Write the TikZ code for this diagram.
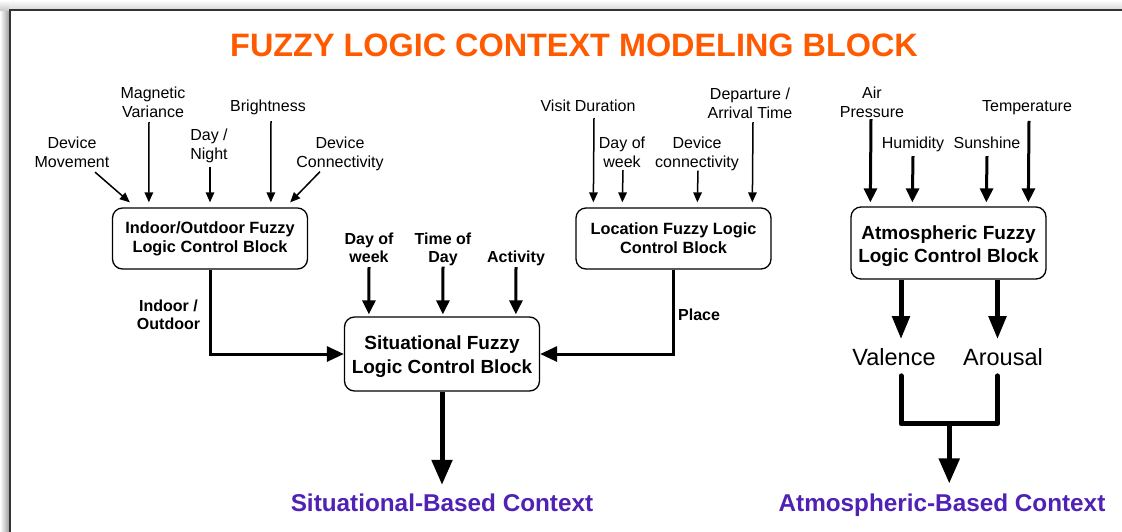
\documentclass[tikz,border=0pt]{standalone}
\usepackage{fontspec}
\setmainfont{Liberation Sans}
\usetikzlibrary{arrows.meta,calc}

\definecolor{titleorange}{HTML}{FF5A00}
\definecolor{ctxpurple}{HTML}{5021B5}
\definecolor{framegray}{HTML}{333333}

\tikzset{
  block/.style={draw=black, line width=1.3pt, rounded corners=10pt, fill=white,
                inner sep=0pt, align=center},
  smallblock/.style={block, minimum width=195pt, minimum height=61pt,
                font=\fontsize{16.3}{19}\selectfont\bfseries},
  bigblock/.style={block, minimum width=195pt,
                font=\fontsize{19}{22.5}\selectfont\bfseries},
  lbl/.style={align=center, inner sep=0pt, font=\fontsize{16}{19}\selectfont},
  blbl/.style={align=center, inner sep=0pt, font=\fontsize{16}{18}\selectfont\bfseries},
  outlbl/.style={inner sep=0pt, font=\fontsize{23.5}{26}\selectfont},
  ctxlbl/.style={inner sep=0pt, text=ctxpurple, font=\fontsize{24.3}{28}\selectfont\bfseries},
  thinarrow/.style={line width=1.5pt, -{Triangle[length=10pt,width=8.5pt]}},
  midarrow/.style={line width=3pt, -{Triangle[length=14pt,width=13pt]}},
  feedarrow/.style={line width=3pt, -{Triangle[length=17pt,width=15pt]}},
  bigarrow/.style={line width=5pt, -{Triangle[length=25pt,width=20pt]}},
  mergeline/.style={line width=5pt, line cap=round, line join=round},
}

% a tall invisible strut that lowers a two-line block text a little
\newcommand\lowertext{\rule{0pt}{20pt}}

\begin{document}
\begin{tikzpicture}[x=1pt, y=-1pt]
  \useasboundingbox (0,0) rectangle (1122,531);
  \fill[white] (0,0) rectangle (1122,531);

  % page frame with its soft shadow
  \shade[left color=white, right color=black!38] (0,10) rectangle (9,531);
  \shade[top color=white, bottom color=black!14] (9,0) rectangle (1122,9);
  \shade[top color=white, bottom color=black!20] (0,0) rectangle (9,10);
  \draw[line width=2pt, draw=framegray] (10,545) -- (10,10) -- (1135,10);

  % title
  \node[font=\fontsize{32.4}{36}\selectfont\bfseries, text=titleorange, inner sep=0pt]
    (title) at (574,45) {FUZZY LOGIC CONTEXT MODELING BLOCK};

  % control blocks
  \node[smallblock] (io)  at (210,238.5)   {Indoor/Outdoor Fuzzy\\Logic Control Block};
  \node[smallblock] (loc) at (673.5,238.5) {Location Fuzzy Logic\\Control Block};
  \node[bigblock, minimum height=74pt, font=\fontsize{19}{24}\selectfont\bfseries]
    (sit) at (442,354) {\lowertext Situational Fuzzy\\Logic Control Block};
  \node[bigblock, minimum height=72pt] (atm) at (948.5,243) {\lowertext Atmospheric Fuzzy\\Logic Control Block};

  % inputs of the indoor/outdoor block
  \node[lbl] (dm) at (72,152.5)  {Device\\Movement};
  \node[lbl] (mv) at (153,102.5) {Magnetic\\Variance};
  \node[lbl] (dn) at (209,145.5) {Day /\\Night};
  \node[lbl] (br) at (268,107.5) {Brightness};
  \node[lbl] (dc) at (340,153.5) {Device\\Connectivity};

  \draw[thinarrow] ([xshift=23pt,yshift=-4pt]dm.south) -- ([xshift=18pt,yshift=5pt]io.north west);
  \draw[thinarrow] ([xshift=-4pt,yshift=-4pt]mv.south) -- ([xshift=37pt,yshift=5pt]io.north west);
  \draw[thinarrow] ([xshift=1pt,yshift=-4pt]dn.south)  -- ([yshift=5pt]io.north);
  \draw[thinarrow] ([xshift=3pt,yshift=-6pt]br.south)  -- ([xshift=159pt,yshift=5pt]io.north west);
  \draw[thinarrow] ([xshift=-20pt,yshift=-1pt]dc.south) -- ([xshift=-18pt,yshift=5pt]io.north east);

  % inputs of the location block
  \node[lbl] (vd)  at (588,106) {Visit Duration};
  \node[lbl] (dw)  at (622,152.5) {Day of\\week};
  \node[lbl] (dcl) at (697,153.5) {Device\\connectivity};
  \node[lbl] (dep) at (750,103.5) {Departure /\\Arrival Time};

  \draw[thinarrow] ([xshift=6pt,yshift=-6pt]vd.south)  -- ([xshift=18pt,yshift=5pt]loc.north west);
  \draw[thinarrow] ([xshift=1pt,yshift=-2pt]dw.south)  -- ([xshift=47pt,yshift=5pt]loc.north west);
  \draw[thinarrow] ([xshift=1pt,yshift=0pt]dcl.south)  -- ([xshift=122pt,yshift=5pt]loc.north west);
  \draw[thinarrow] ([xshift=3pt,yshift=-3pt]dep.south) -- ([xshift=177pt,yshift=5pt]loc.north west);

  % inputs of the atmospheric block
  \node[lbl] (ap) at (872,102.5) {Air\\Pressure};
  \node[lbl] (hu) at (913,144.5) {Humidity};
  \node[lbl] (su) at (987,143)   {Sunshine};
  \node[lbl] (te) at (1027,107.5) {Temperature};

  \draw[midarrow] ([xshift=-1pt,yshift=-1pt]ap.south) -- ([xshift=20pt,yshift=4pt]atm.north west);
  \draw[midarrow] ([yshift=-4pt]hu.south) -- ([xshift=62pt,yshift=4pt]atm.north west);
  \draw[midarrow] ([yshift=-7pt]su.south) -- ([xshift=136pt,yshift=4pt]atm.north west);
  \draw[midarrow] ([xshift=2pt,yshift=-6pt]te.south) -- ([xshift=178pt,yshift=4pt]atm.north west);

  % inputs of the situational block
  \node[blbl] (sdw) at (369,248) {Day of\\week};
  \node[blbl] (std) at (443,249) {Time of\\Day};
  \node[blbl] (act) at (516,258.5) {Activity};

  \draw[midarrow] ([yshift=-4pt]sdw.south) -- ([xshift=25pt,yshift=2pt]sit.north west);
  \draw[midarrow] ([yshift=-1pt]std.south) -- ([xshift=99pt,yshift=2pt]sit.north west);
  \draw[midarrow] ([yshift=-1pt]act.south) -- ([xshift=172pt,yshift=2pt]sit.north west);

  % outputs feeding the situational block
  \draw[feedarrow] (io.south) |- (sit.west);
  \draw[feedarrow] (loc.south) |- (sit.east);
  \node[blbl] (iolbl) at (168.5,314.5) {Indoor /\\Outdoor};
  \node[blbl, anchor=west] (place) at (678,314.5) {Place};

  % situational context
  \node[ctxlbl] (sitctx) at (442,503) {Situational-Based Context};
  \draw[bigarrow, shorten >=9pt] (sit.south) -- (sitctx.north);

  % valence / arousal
  \node[outlbl] (val) at (894,357) {Valence};
  \node[outlbl] (aro) at (1003,357) {Arousal};
  \draw[bigarrow, -{Triangle[length=23pt,width=17pt]}, shorten >=9pt]
    ($(atm.south)+(-47.5,0)$) coordinate (vs) -- (vs |- val.north);
  \draw[bigarrow, -{Triangle[length=23pt,width=17pt]}, shorten >=9pt]
    ($(atm.south)+(49,0)$) coordinate (as) -- (as |- aro.north);

  \coordinate (mL) at ($(vs |- val.south)+(0,10)$);
  \coordinate (mR) at ($(as |- aro.south)+(0,10)$);
  \draw[mergeline] (mL) -- ++(0,48) coordinate (mB) -| (mR);
  \coordinate (mC) at ($(mB)!0.5!(mB -| mR)$);

  % atmospheric context
  \node[ctxlbl] (atmctx) at (942,505) {Atmospheric-Based Context};
  \draw[bigarrow, shorten >=10pt] (mC) -- (mC |- atmctx.north);
\end{tikzpicture}
\end{document}
